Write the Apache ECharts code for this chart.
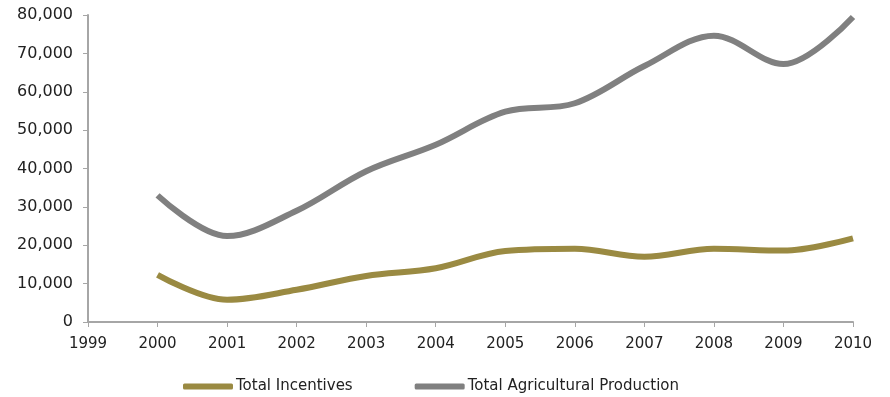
<!DOCTYPE html>
<html>
<head>
<meta charset="utf-8">
<script src="https://cdn.jsdelivr.net/npm/echarts@6/dist/echarts.min.js"></script>
<style>
  html, body { margin: 0; padding: 0; background: #fff; }
  #chart { width: 890px; height: 397px; }
</style>
</head>
<body>
<div id="chart"></div>
<script>
// Years on the horizontal axis
const years = [2000, 2001, 2002, 2003, 2004, 2005, 2006, 2007, 2008, 2009, 2010];
// Series values
const totalIncentives = [12300, 5800, 8400, 12000, 14000, 18500, 19100, 17000, 19100, 18600, 21800];
const totalAgriculturalProduction = [33000, 22400, 29000, 39300, 46200, 54800, 57000, 66700, 74600, 67200, 79500];
const seriesNames = ['Total Incentives', 'Total Agricultural Production'];

const toPairs = vals => years.map((y, i) => [y, vals[i]]);

const chart = echarts.init(document.getElementById('chart'));
const font = 'DejaVu Sans, Verdana, sans-serif';
const axisGray = '#a6a6a6';

chart.setOption({
  animation: false,
  grid: { left: 88, right: 37, top: 15, bottom: 75 },
  legend: {
    top: 374,
    left: 178,
    itemWidth: 50,
    itemHeight: 6,
    itemGap: 62,
    icon: 'roundRect',
    textStyle: { fontFamily: font, fontSize: 15, color: '#222', padding: [0, 0, 0, -2] },
    data: seriesNames
  },
  xAxis: {
    type: 'value',
    min: 1999,
    max: 2010,
    interval: 1,
    axisLine: { show: true, lineStyle: { color: axisGray, width: 2 } },
    axisTick: { show: true, inside: false, length: 5, lineStyle: { color: axisGray, width: 1 } },
    axisLabel: { fontFamily: font, fontSize: 15, color: '#222', margin: 15, formatter: v => String(v) },
    splitLine: { show: false }
  },
  yAxis: {
    type: 'value',
    min: 0,
    max: 80000,
    interval: 10000,
    axisLine: { show: true, lineStyle: { color: axisGray, width: 2 } },
    axisTick: { show: true, inside: false, length: 5, lineStyle: { color: axisGray, width: 1 } },
    axisLabel: {
      fontFamily: font, fontSize: 16, color: '#222', margin: 15,
      formatter: v => v.toLocaleString('en-US')
    },
    splitLine: { show: false }
  },
  series: [
    {
      name: seriesNames[0],
      type: 'line',
      smooth: 0.35,
      showSymbol: false,
      data: toPairs(totalIncentives),
      itemStyle: { color: '#9a8a42' },
      lineStyle: { color: '#9a8a42', width: 6 }
    },
    {
      name: seriesNames[1],
      type: 'line',
      smooth: 0.35,
      showSymbol: false,
      data: toPairs(totalAgriculturalProduction),
      itemStyle: { color: '#808080' },
      lineStyle: { color: '#808080', width: 6 }
    }
  ]
});
</script>
</body>
</html>
